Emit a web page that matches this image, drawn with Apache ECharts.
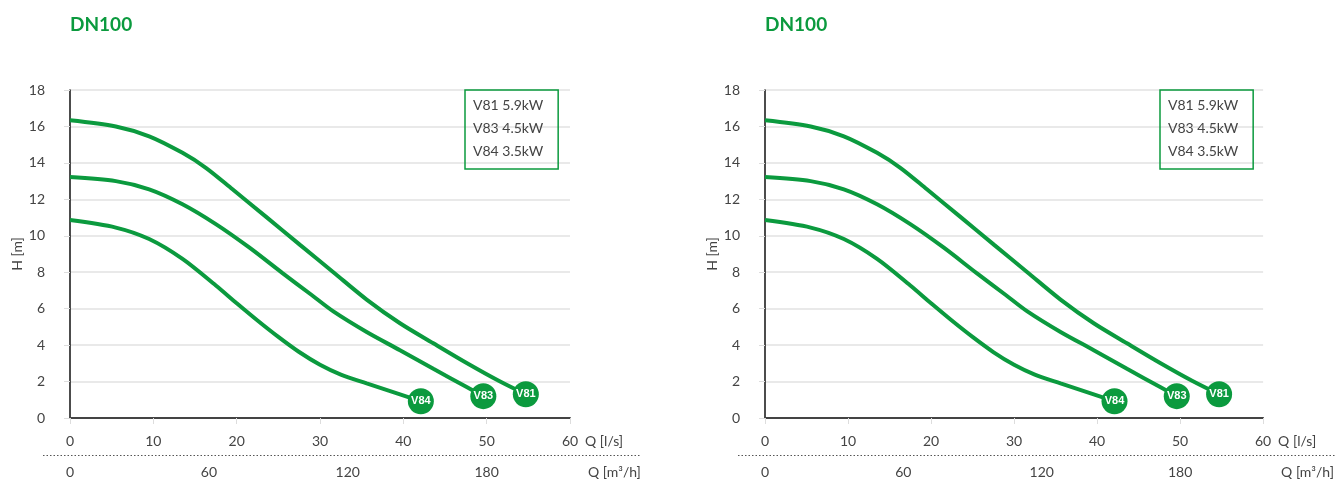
<!DOCTYPE html>
<html>
<head>
<meta charset="utf-8">
<script src="https://cdn.jsdelivr.net/npm/echarts@6/dist/echarts.min.js"></script>
<style>
  html, body { margin: 0; padding: 0; background: #fff; }
  #chart { width: 1337px; height: 484px; }
</style>
</head>
<body>
<div id="chart"></div>
<script>
// curve points: Q [l/s] vs H [m]
const flowV81 = [0, 5.5, 9.5, 13.5, 16.3, 19.5, 23.5, 27.6, 31.6, 35.6, 39.6, 43.6, 47.6, 51.5, 54.7];
const headV81 = [16.34, 16.0, 15.46, 14.55, 13.73, 12.55, 11.05, 9.5, 8.0, 6.5, 5.2, 4.1, 3.02, 2.03, 1.3];
const flowV83 = [0, 5.5, 9.5, 13.5, 17.5, 21.5, 25.5, 29, 31.6, 35.6, 39.6, 43.6, 47.6, 49.6];
const headV83 = [13.22, 13.0, 12.55, 11.73, 10.64, 9.36, 7.95, 6.75, 5.85, 4.72, 3.72, 2.7, 1.7, 1.2];
const flowV84 = [0, 5.5, 9.5, 13.5, 17.5, 20, 22.5, 25, 27.5, 30, 32.5, 35.6, 39.6, 42.1];
const headV84 = [10.86, 10.45, 9.82, 8.73, 7.27, 6.3, 5.35, 4.45, 3.62, 2.92, 2.38, 1.9, 1.3, 0.92];

const pumpNames = ['V81', 'V83', 'V84'];
const pumpPower = ['5.9kW', '4.5kW', '3.5kW'];
const chartTitles = ['DN100', 'DN100'];

const GREEN = '#0b9a3e';
const FONT = 'Lato, "Open Sans", sans-serif';

const curves = [
  [flowV81, headV81],
  [flowV83, headV83],
  [flowV84, headV84]
];
const legendNames = pumpNames.map((n, i) => n + ' ' + pumpPower[i]);

const gridLefts = [70, 765];

const chart = echarts.init(document.getElementById('chart'));

const grids = [], xAxes = [], yAxes = [], legends = [], titles = [], series = [], graphics = [];

gridLefts.forEach((left, g) => {
  titles.push({
    text: chartTitles[g],
    left: left - 5,
    top: 10,
    textStyle: { color: GREEN, fontSize: 19, fontWeight: 'bold', fontFamily: FONT }
  });
  grids.push({ left: left, top: 90, width: 500, height: 328 });

  // main axis l/s
  xAxes.push({
    gridIndex: g,
    type: 'value',
    min: 0, max: 60, interval: 10,
    name: 'Q [l/s]',
    nameLocation: 'end',
    nameGap: 15,
    nameTextStyle: { color: '#444', fontSize: 14, fontFamily: FONT, verticalAlign: 'top', padding: [16, 0, 0, 0] },
    axisLine: { show: true, lineStyle: { color: '#444', width: 2 } },
    axisTick: { show: true, length: 6, lineStyle: { color: '#ddd' } },
    axisLabel: { color: '#444', fontSize: 14, fontFamily: FONT, margin: 16 },
    splitLine: { show: false }
  });
  // secondary axis m3/h (1 l/s = 3.6 m3/h)
  xAxes.push({
    gridIndex: g,
    type: 'value',
    position: 'bottom',
    offset: 37,
    min: 0, max: 216, interval: 60,
    name: 'Q [m³/h]',
    nameLocation: 'end',
    nameGap: 18,
    nameTextStyle: { color: '#444', fontSize: 14, fontFamily: FONT, verticalAlign: 'top', padding: [10, 0, 0, 0] },
    axisLine: { show: false },
    axisTick: { show: false },
    axisLabel: { color: '#444', fontSize: 14, fontFamily: FONT, margin: 10, showMaxLabel: false },
    splitLine: { show: false }
  });
  yAxes.push({
    gridIndex: g,
    type: 'value',
    min: 0, max: 18, interval: 2,
    name: 'H [m]',
    nameLocation: 'middle',
    nameGap: 44,
    nameTextStyle: { color: '#444', fontSize: 14, fontFamily: FONT },
    axisLine: { show: true, lineStyle: { color: '#111', width: 1.5 } },
    axisTick: { show: true, length: 6, lineStyle: { color: '#ddd' } },
    axisLabel: { color: '#444', fontSize: 14, fontFamily: FONT, margin: 25 },
    splitLine: { show: true, lineStyle: { color: '#e2e2e2', width: 1.5 } }
  });
  legends.push({
    left: left + 395,
    top: 90,
    orient: 'vertical',
    data: legendNames,
    icon: 'none',
    itemWidth: 0,
    itemHeight: 14,
    itemGap: 9,
    padding: [8, 15, 11, 3],
    borderColor: GREEN,
    borderWidth: 1.5,
    selectedMode: false,
    textStyle: { color: '#444', fontSize: 14, fontFamily: FONT }
  });

  curves.forEach(([flow, head], i) => {
    series.push({
      name: legendNames[i],
      type: 'line',
      xAxisIndex: g * 2,
      yAxisIndex: g,
      smooth: 0.3,
      showSymbol: false,
      lineStyle: { color: GREEN, width: 4 },
      itemStyle: { color: GREEN },
      data: flow.map((q, k) => [q, head[k]]),
      z: 2
    });
  });
  // end markers
  series.push({
    name: 'ends',
    type: 'scatter',
    xAxisIndex: g * 2,
    yAxisIndex: g,
    symbol: 'circle',
    symbolSize: 26,
    itemStyle: { color: GREEN, opacity: 1 },
    label: {
      show: true,
      position: 'inside',
      formatter: (p) => p.data[2],
      color: '#fff',
      fontSize: 11,
      fontWeight: 'bold',
      fontFamily: 'Arial, "Liberation Sans", sans-serif'
    },
    data: curves.map(([flow, head], i) => [flow[flow.length - 1], head[head.length - 1], pumpNames[i]]),
    z: 5
  });

  // dotted separator between the two Q scales
  graphics.push({
    type: 'line',
    shape: { x1: left - 27, y1: 455.5, x2: left + 570, y2: 455.5 },
    style: { stroke: '#555', lineWidth: 1, lineDash: [1.5, 2] }
  });
});

chart.setOption({
  animation: false,
  title: titles,
  grid: grids,
  xAxis: xAxes,
  yAxis: yAxes,
  legend: legends,
  series: series,
  graphic: graphics
});
</script>
</body>
</html>
